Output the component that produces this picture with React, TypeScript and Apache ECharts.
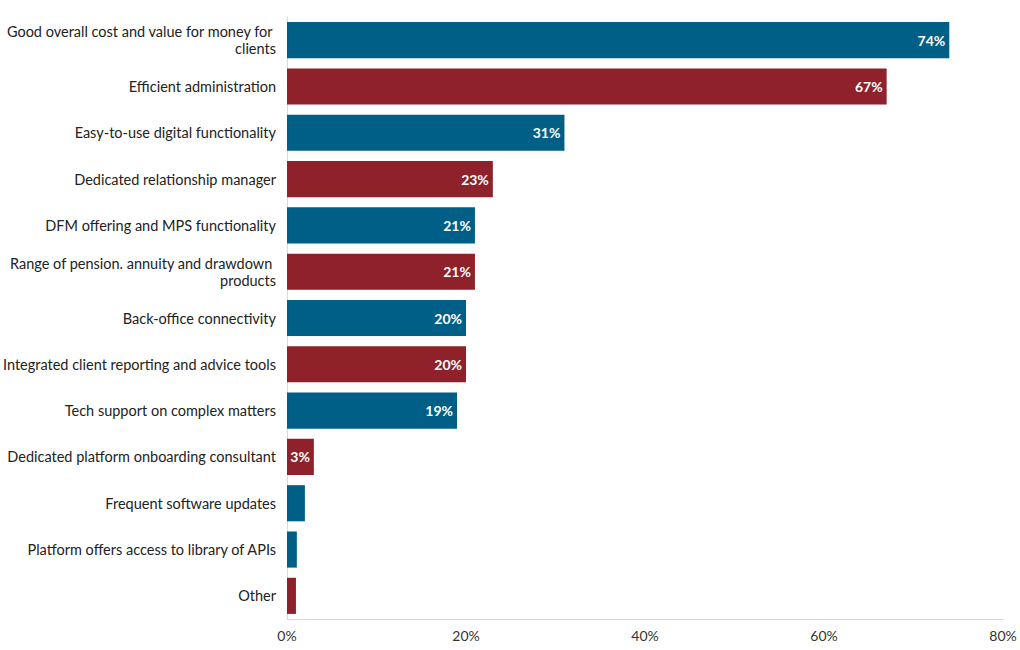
import React, { useEffect, useRef } from "react";
import * as echarts from "echarts";

const categories = [
  "Good overall cost and value for money for clients",
  "Efficient administration",
  "Easy-to-use digital functionality",
  "Dedicated relationship manager",
  "DFM offering and MPS functionality",
  "Range of pension. annuity and drawdown products",
  "Back-office connectivity",
  "Integrated client reporting and advice tools",
  "Tech support on complex matters",
  "Dedicated platform onboarding consultant",
  "Frequent software updates",
  "Platform offers access to library of APIs",
  "Other",
];

const values = [74, 67, 31, 23, 21, 21, 20, 20, 19, 3, 2, 1.1, 1];

const showLabel = [true, true, true, true, true, true, true, true, true, true, false, false, false];

const barColors = ["#005f87", "#8e2129", "#005f87", "#8e2129", "#005f87", "#8e2129", "#005f87", "#8e2129", "#005f87", "#8e2129", "#005f87", "#005f87", "#8e2129"];

const xTicks = { min: 0, max: 80, interval: 20 };

const FONT = "'Source Sans Pro', Lato, 'Noto Sans', sans-serif";

export default function App() {
  const ref = useRef<HTMLDivElement>(null);
  useEffect(() => {
    if (!ref.current) return;
    const chart = echarts.init(ref.current, null, { renderer: "svg" });
    chart.setOption({
      animation: false,
      grid: { left: 287, right: 17, top: 17, bottom: 31, containLabel: false, outerBoundsMode: "none" },
      xAxis: {
        type: "value",
        min: xTicks.min,
        max: xTicks.max,
        interval: xTicks.interval,
        axisLine: { show: true, lineStyle: { color: "#d9d9d9", width: 1 } },
        axisTick: { show: false },
        splitLine: { show: false },
        axisLabel: {
          formatter: "{value}%",
          color: "#333",
          fontSize: 14,
          fontFamily: FONT,
          margin: 9,
        },
      },
      yAxis: {
        type: "category",
        inverse: true,
        data: categories,
        axisLine: { show: true, lineStyle: { color: "#d9d9d9", width: 1 } },
        axisTick: { show: false },
        axisLabel: {
          color: "#222",
          fontSize: 14.5,
          fontFamily: FONT,
          margin: 11,
          width: 280,
          overflow: "break",
          align: "right",
          lineHeight: 17,
        },
      },
      series: [
        {
          type: "bar",
          barCategoryGap: "22%",
          data: values.map((v, i) => ({
            value: v,
            itemStyle: { color: barColors[i] },
            label: { show: showLabel[i] },
          })),
          label: {
            show: true,
            position: "insideRight",
            distance: 4,
            formatter: (p: any) => `${Math.round(p.value)}%`,
            color: "#fff",
            fontWeight: "bold",
            fontSize: 14,
            fontFamily: FONT,
          },
        },
      ],
    });
    return () => chart.dispose();
  }, []);
  return (
    <div
      ref={ref}
      style={{ position: "absolute", left: 0, top: 0, width: 1020, height: 650, background: "#fff" }}
    />
  );
}
